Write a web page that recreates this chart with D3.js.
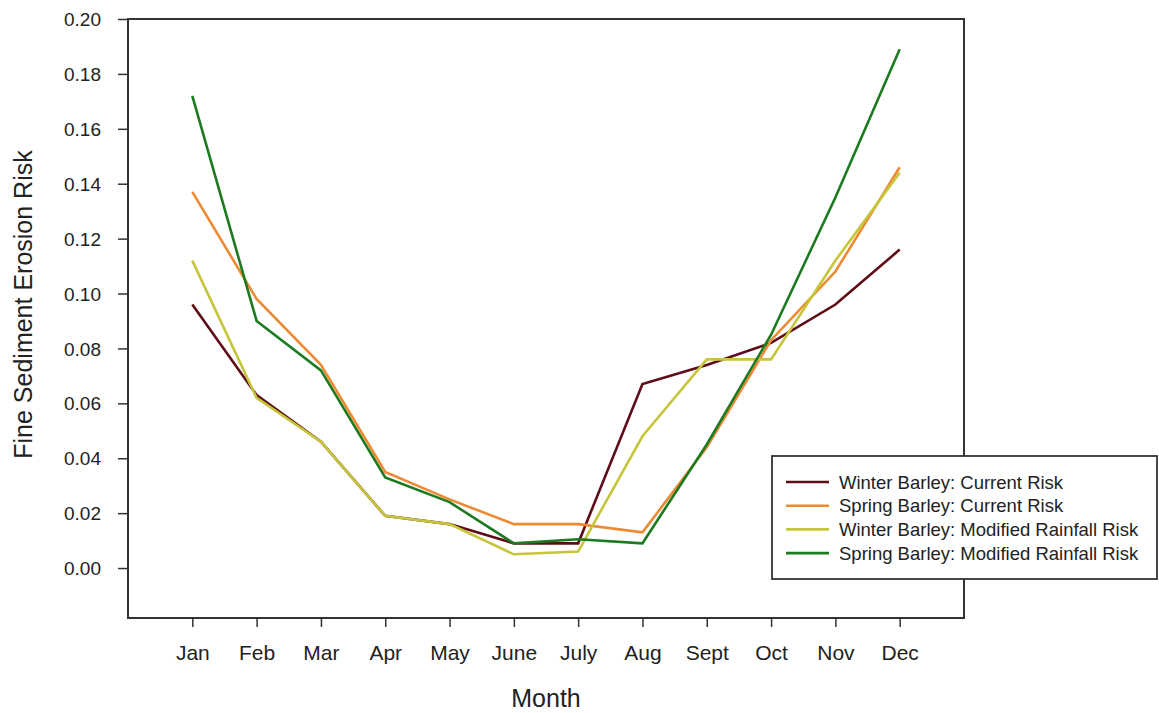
<!DOCTYPE html>
<html>
<head>
<meta charset="utf-8">
<script src="https://cdn.jsdelivr.net/npm/d3@7"></script>
<style>
  html, body { margin: 0; padding: 0; background: #fff; }
  svg { display: block; }
  text { font-family: "Liberation Sans", Arial, sans-serif; fill: #222; }
</style>
</head>
<body>
<svg id="chart" width="1159" height="713"></svg>
<script>
const months = ["Jan","Feb","Mar","Apr","May","June","July","Aug","Sept","Oct","Nov","Dec"];
const winterCurrent  = [0.096, 0.063, 0.046, 0.019, 0.016, 0.009, 0.009, 0.067, 0.074, 0.082, 0.096, 0.116];
const springCurrent  = [0.137, 0.098, 0.074, 0.035, 0.025, 0.016, 0.016, 0.013, 0.044, 0.083, 0.108, 0.146];
const winterModified = [0.112, 0.062, 0.046, 0.019, 0.016, 0.005, 0.006, 0.048, 0.076, 0.076, 0.112, 0.144];
const springModified = [0.172, 0.090, 0.072, 0.033, 0.024, 0.009, 0.0105, 0.009, 0.045, 0.085, 0.135, 0.189];
const seriesNames = ["Winter Barley: Current Risk","Spring Barley: Current Risk","Winter Barley: Modified Rainfall Risk","Spring Barley: Modified Rainfall Risk"];
const seriesColors = ["#5e0c16", "#ee8a33", "#c6c63a", "#1c7a20"];
const yTicks = [0, 0.02, 0.04, 0.06, 0.08, 0.10, 0.12, 0.14, 0.16, 0.18, 0.20];
const yLabel = "Fine Sediment Erosion Risk";
const xLabel = "Month";

const seriesValues = [winterCurrent, springCurrent, winterModified, springModified];

const svg = d3.select("#chart");
const pLeft = 128, pRight = 964, pTop = 19, pBottom = 618;

const x = d3.scalePoint().domain(months).range([pLeft, pRight]).padding(1);
const y = d3.scaleLinear().domain([-0.0182, 0.20]).range([pBottom, pTop]);

// frame
svg.append("rect")
  .attr("x", pLeft).attr("y", pTop)
  .attr("width", pRight - pLeft).attr("height", pBottom - pTop)
  .attr("fill", "none").attr("stroke", "#333").attr("stroke-width", 2);

// y axis
const yAxis = svg.append("g").attr("transform", `translate(${pLeft},0)`)
  .call(d3.axisLeft(y).tickValues(yTicks).tickFormat(d3.format(".2f")).tickSize(10).tickPadding(17));
yAxis.select(".domain").remove();
yAxis.selectAll("line").attr("stroke", "#333").attr("stroke-width", 1.5);
yAxis.selectAll("text")
  .style("font-family", '"Liberation Sans", Arial, sans-serif')
  .style("font-size", "19px").attr("fill", "#222").attr("dy", "0.35em");

// x axis
const xAxis = svg.append("g").attr("transform", `translate(0,${pBottom})`)
  .call(d3.axisBottom(x).tickSize(9).tickPadding(18));
xAxis.select(".domain").remove();
xAxis.selectAll("line").attr("stroke", "#333").attr("stroke-width", 1.5);
xAxis.selectAll("text")
  .style("font-family", '"Liberation Sans", Arial, sans-serif')
  .style("font-size", "21px").attr("fill", "#222");

// axis titles
svg.append("text")
  .attr("transform", `translate(32,${(pTop + 590) / 2}) rotate(-90)`)
  .attr("text-anchor", "middle")
  .style("font-size", "25px")
  .text(yLabel);

svg.append("text")
  .attr("x", (pLeft + pRight) / 2).attr("y", 707)
  .attr("text-anchor", "middle")
  .style("font-size", "25px")
  .text(xLabel);

// lines
const line = d3.line().x((d, i) => x(months[i])).y(d => y(d));
seriesValues.forEach((vals, k) => {
  svg.append("path")
    .datum(vals)
    .attr("d", line)
    .attr("fill", "none")
    .attr("stroke", seriesColors[k])
    .attr("stroke-width", 2.6)
    .attr("stroke-linejoin", "miter");
});

// legend
const lg = svg.append("g");
lg.append("rect")
  .attr("x", 772).attr("y", 456).attr("width", 385).attr("height", 123)
  .attr("fill", "#fff").attr("stroke", "#333").attr("stroke-width", 1.8);
seriesNames.forEach((name, k) => {
  const cy = 482 + k * 23.7;
  lg.append("line")
    .attr("x1", 786).attr("x2", 829).attr("y1", cy).attr("y2", cy)
    .attr("stroke", seriesColors[k]).attr("stroke-width", 2.6);
  lg.append("text")
    .attr("x", 839).attr("y", cy + 6.5)
    .style("font-size", "18.5px")
    .text(name);
});
</script>
</body>
</html>
